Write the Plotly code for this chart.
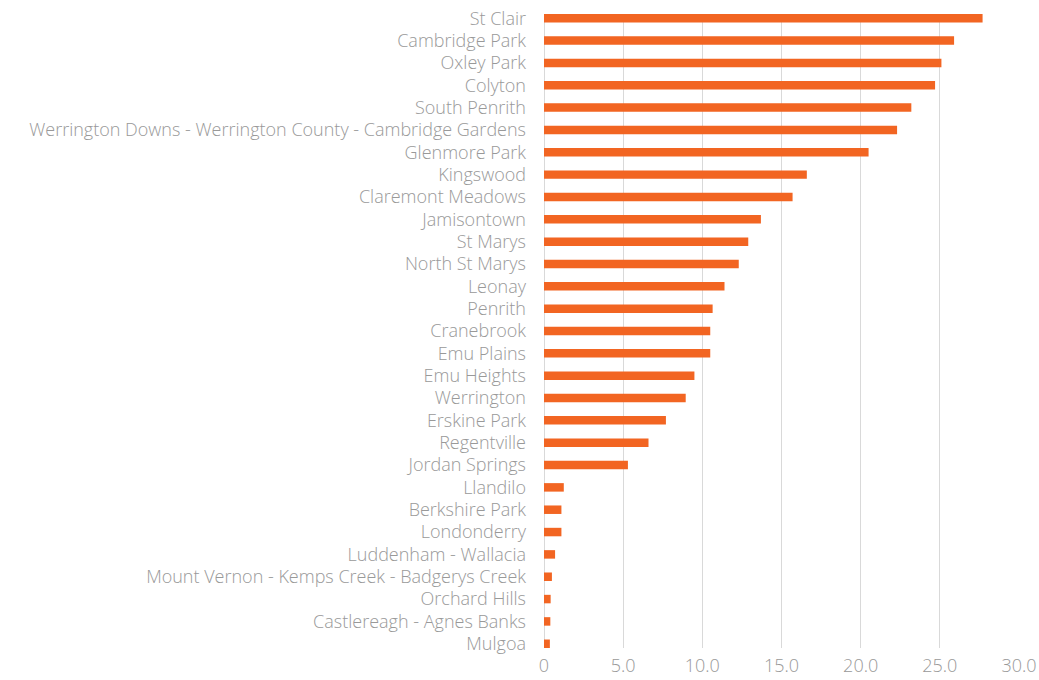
import plotly.graph_objects as go

# suburbs, top to bottom as shown
suburbs = [
    "St Clair", "Cambridge Park", "Oxley Park", "Colyton", "South Penrith",
    "Werrington Downs - Werrington County - Cambridge Gardens", "Glenmore Park",
    "Kingswood", "Claremont Meadows", "Jamisontown", "St Marys", "North St Marys",
    "Leonay", "Penrith", "Cranebrook", "Emu Plains", "Emu Heights", "Werrington",
    "Erskine Park", "Regentville", "Jordan Springs", "Llandilo", "Berkshire Park",
    "Londonderry", "Luddenham - Wallacia", "Mount Vernon - Kemps Creek - Badgerys Creek",
    "Orchard Hills", "Castlereagh - Agnes Banks", "Mulgoa",
]
values = [
    27.7, 25.9, 25.1, 24.7, 23.2,
    22.3, 20.5,
    16.6, 15.7, 13.7, 12.9, 12.3,
    11.4, 10.65, 10.5, 10.5, 9.5, 8.95,
    7.7, 6.6, 5.3, 1.25, 1.1,
    1.1, 0.7, 0.5,
    0.42, 0.4, 0.37,
]
x_ticks = [0, 5, 10, 15, 20, 25, 30]
x_tick_text = ["0", "5.0", "10.0", "15.0", "20.0", "25.0", "30.0"]

grey = "#999999"
label_font = "Open Sans"

fig = go.Figure(go.Bar(
    x=values,
    y=suburbs,
    orientation="h",
    width=0.38,
    marker=dict(color="#F26522", line=dict(width=0)),
    hoverinfo="skip",
))

fig.update_layout(
    width=1039,
    height=680,
    margin=dict(l=544, r=20, t=13.5, b=32, autoexpand=False),
    plot_bgcolor="white",
    paper_bgcolor="white",
    font=dict(family=label_font, size=18, color=grey),
    showlegend=False,
    hovermode=False,
)
fig.update_xaxes(
    range=[0, 30],
    tickvals=x_ticks,
    ticktext=x_tick_text,
    showgrid=True,
    gridcolor="#d9d9d9",
    gridwidth=1,
    zeroline=True,
    zerolinecolor="#d9d9d9",
    zerolinewidth=1,
    showline=False,
    ticks="",
    ticklabelstandoff=5,
    tickfont=dict(family=label_font, size=18, color=grey, weight=300),
)
fig.update_yaxes(
    type="category",
    range=[len(suburbs) - 1 + 0.19, -0.19],
    autorange=False,
    showgrid=False,
    zeroline=False,
    showline=False,
    ticks="",
    ticklabelstandoff=17,
    tickfont=dict(family=label_font, size=18, color=grey, weight=300),
)

# drop the default page margin so the figure fills the window
fig.write_html(
    "out.html",
    config={"displayModeBar": False},
    post_script="document.body.style.margin = '0';",
)
